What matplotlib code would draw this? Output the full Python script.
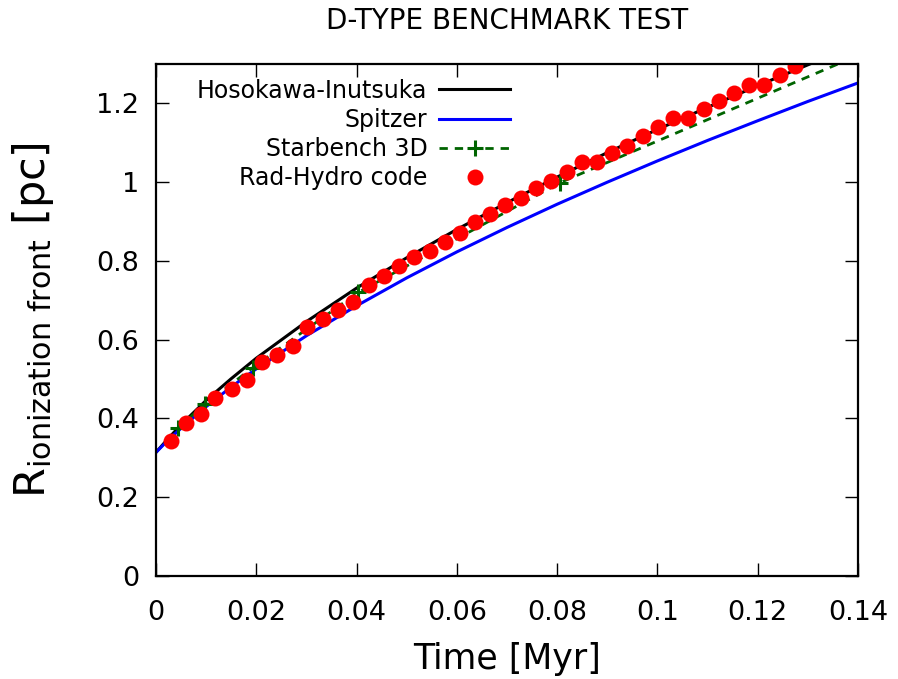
import matplotlib.pyplot as plt

plt.rcParams["font.family"] = "DejaVu Sans"
plt.rcParams["mathtext.default"] = "regular"

# analytic curves (Myr, pc)
time_model = [0.0, 0.0025, 0.005, 0.01, 0.015, 0.02, 0.03, 0.04, 0.05, 0.06,
              0.07, 0.08, 0.09, 0.10, 0.11, 0.12, 0.13, 0.14]
r_hosokawa = [0.314, 0.350, 0.384, 0.446, 0.501, 0.553, 0.646, 0.731, 0.808,
              0.880, 0.948, 1.013, 1.075, 1.134, 1.190, 1.245, 1.298, 1.350]
r_spitzer = [0.314, 0.346, 0.375, 0.430, 0.480, 0.526, 0.610, 0.686, 0.757,
             0.823, 0.885, 0.944, 1.000, 1.054, 1.106, 1.156, 1.205, 1.252]

# Starbench 3D reference points
time_starbench = [0.0044, 0.0098, 0.0193, 0.0403, 0.0806, 0.161]
r_starbench = [0.376, 0.437, 0.529, 0.720, 0.999, 1.436]

# simulation snapshots
time_code = [0.0030, 0.0060, 0.0090, 0.0118, 0.0152, 0.0181, 0.0211, 0.0241,
             0.0273, 0.0301, 0.0333, 0.0363, 0.0393, 0.0425, 0.0455, 0.0485,
             0.0514, 0.0546, 0.0576, 0.0606, 0.0636, 0.0666, 0.0696, 0.0728,
             0.0758, 0.0788, 0.0819, 0.0850, 0.0879, 0.0909, 0.0939, 0.0971,
             0.1001, 0.1031, 0.1061, 0.1093, 0.1123, 0.1153, 0.1183, 0.1212,
             0.1244, 0.1274]
r_code = [0.343, 0.389, 0.412, 0.453, 0.475, 0.498, 0.544, 0.562, 0.585,
          0.631, 0.653, 0.676, 0.697, 0.740, 0.763, 0.786, 0.809, 0.826,
          0.849, 0.872, 0.898, 0.920, 0.941, 0.961, 0.984, 1.004, 1.027,
          1.050, 1.050, 1.073, 1.093, 1.116, 1.139, 1.162, 1.162, 1.185,
          1.205, 1.226, 1.248, 1.248, 1.271, 1.294]

fig = plt.figure(figsize=(8.98, 6.79), dpi=100)
ax = fig.add_axes([0.1737, 0.1517, 0.7818, 0.754])

ax.plot(time_model, r_hosokawa, color="black", linewidth=2.2,
        label="Hosokawa-Inutsuka")
ax.plot(time_model, r_spitzer, color="#0000ff", linewidth=2.2,
        label="Spitzer")
ax.plot(time_starbench, r_starbench, color="#006400", linewidth=2.0,
        linestyle=(0, (3, 2.5)), marker="+", markersize=11,
        markeredgewidth=2.2, label="Starbench 3D")
ax.plot(time_code, r_code, linestyle="none", marker="o", markersize=11.5,
        color="#ff0000", markeredgewidth=0, label="Rad-Hydro code")

ax.set_xlim(0, 0.14)
ax.set_ylim(0, 1.3)
ax.set_xticks([0, 0.02, 0.04, 0.06, 0.08, 0.1, 0.12, 0.14])
ax.set_xticklabels(["0", "0.02", "0.04", "0.06", "0.08", "0.1", "0.12", "0.14"])
ax.set_yticks([0, 0.2, 0.4, 0.6, 0.8, 1.0, 1.2])
ax.set_yticklabels(["0", "0.2", "0.4", "0.6", "0.8", "1", "1.2"])
ax.tick_params(direction="in", length=9.5, width=1.0, labelsize=19.5,
               top=True, right=True)
ax.tick_params(axis="x", pad=17)
ax.tick_params(axis="y", pad=12)
for spine in ax.spines.values():
    spine.set_linewidth(1.6)

ax.set_xlabel("Time [Myr]", fontsize=25, labelpad=12)
ax.set_ylabel(r"$R_{ionization\ front}$ [pc]", fontsize=31, labelpad=29)
ax.set_title("D-TYPE BENCHMARK TEST", fontsize=20, pad=25)

# gnuplot-style key: with markerfirst=False the rows are right-aligned
ax.legend(loc="upper left", bbox_to_anchor=(0.045, 0.99),
          borderaxespad=0, frameon=False, fontsize=17,
          markerfirst=False, handlelength=3.0, handletextpad=0.5,
          labelspacing=0.22)

fig.savefig("out.png", dpi=100)
plt.close(fig)
